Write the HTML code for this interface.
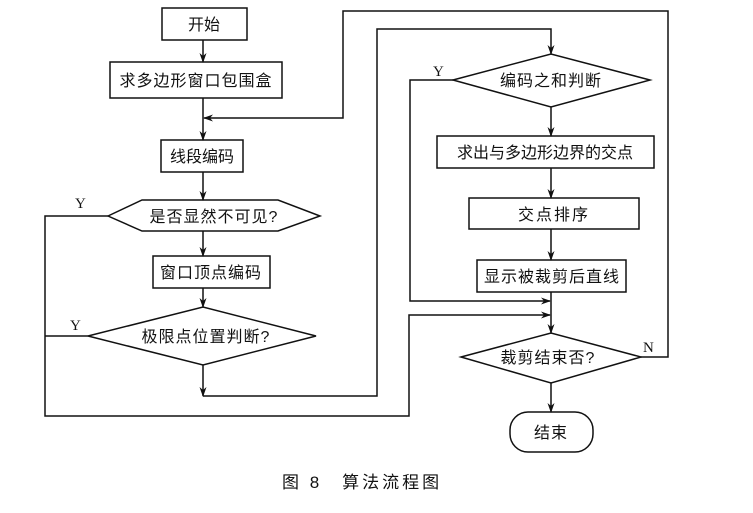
<!DOCTYPE html>
<html><head><meta charset="utf-8"><style>
body{margin:0;background:#fff}
text{font-family:"Liberation Sans","Noto Sans CJK SC",sans-serif;font-size:16px;fill:#111}
.l{font-family:"Liberation Serif",serif;font-size:15px}
</style></head><body>
<svg width="753" height="508" viewBox="0 0 753 508" xmlns="http://www.w3.org/2000/svg">
<defs><marker id="a" markerWidth="10" markerHeight="10" refX="9" refY="5" orient="auto" markerUnits="userSpaceOnUse"><path d="M0,1.5 L10,5 L0,8.5 L3,5 Z" fill="#111"/></marker></defs>
<g fill="none" stroke="#111" stroke-width="1.5">
<rect x="162" y="8" width="85" height="32"/>
<rect x="110" y="62" width="172" height="36"/>
<rect x="161" y="140" width="82" height="32"/>
<polygon points="108,216 142,200 278,200 320,216 278,231 142,231"/>
<rect x="153" y="256" width="117" height="32"/>
<polygon points="88,336 203,307 316,336 203,365"/>
<polygon points="453,80 551,54 650,80 551,107"/>
<rect x="437" y="136" width="217" height="32"/>
<rect x="469" y="198" width="170" height="31"/>
<rect x="477" y="260" width="149" height="32"/>
<polygon points="461,357 551,333 641,357 551,383"/>
<rect x="510" y="412" width="83" height="40" rx="18"/>
<line x1="203" y1="40" x2="203" y2="62" marker-end="url(#a)"/>
<line x1="203" y1="98" x2="203" y2="140" marker-end="url(#a)"/>
<line x1="203" y1="172" x2="203" y2="200" marker-end="url(#a)"/>
<line x1="203" y1="231" x2="203" y2="256" marker-end="url(#a)"/>
<line x1="203" y1="288" x2="203" y2="307" marker-end="url(#a)"/>
<line x1="203" y1="365" x2="203" y2="396" marker-end="url(#a)"/>
<polyline points="641,357 668,357 668,11 343,11 343,118 204,118" marker-end="url(#a)"/>
<polyline points="203,396 377,396 377,29 551,29 551,54" marker-end="url(#a)"/>
<polyline points="108,216 45,216 45,416 409,416 409,315 550,315" marker-end="url(#a)"/>
<line x1="88" y1="336" x2="45" y2="336"/>
<polyline points="453,80 410,80 410,301 550,301" marker-end="url(#a)"/>
<line x1="551" y1="107" x2="551" y2="136" marker-end="url(#a)"/>
<line x1="551" y1="168" x2="551" y2="198" marker-end="url(#a)"/>
<line x1="551" y1="229" x2="551" y2="260" marker-end="url(#a)"/>
<line x1="551" y1="292" x2="551" y2="333" marker-end="url(#a)"/>
<line x1="551" y1="383" x2="551" y2="412" marker-end="url(#a)"/>
</g>
<g text-anchor="middle">
<text x="204" y="30">开始</text>
<text x="196" y="86" letter-spacing="1">求多边形窗口包围盒</text>
<text x="202" y="162">线段编码</text>
<text x="214" y="222" letter-spacing="1">是否显然不可见?</text>
<text x="211" y="278" letter-spacing="1">窗口顶点编码</text>
<text x="206" y="342" letter-spacing="1">极限点位置判断?</text>
<text x="551" y="86" letter-spacing="1">编码之和判断</text>
<text x="545" y="158">求出与多边形边界的交点</text>
<text x="554" y="220" letter-spacing="2">交点排序</text>
<text x="552" y="282" letter-spacing="1">显示被裁剪后直线</text>
<text x="548" y="363" letter-spacing="1">裁剪结束否?</text>
<text x="551" y="438" letter-spacing="1">结束</text>
</g>
<text class="l" x="75" y="208">Y</text>
<text class="l" x="70" y="330">Y</text>
<text class="l" x="433" y="76">Y</text>
<text class="l" x="643" y="352">N</text>
<text x="282" y="488" style="font-size:17px" letter-spacing="3">图 8　算法流程图</text>
</svg>
</body></html>
